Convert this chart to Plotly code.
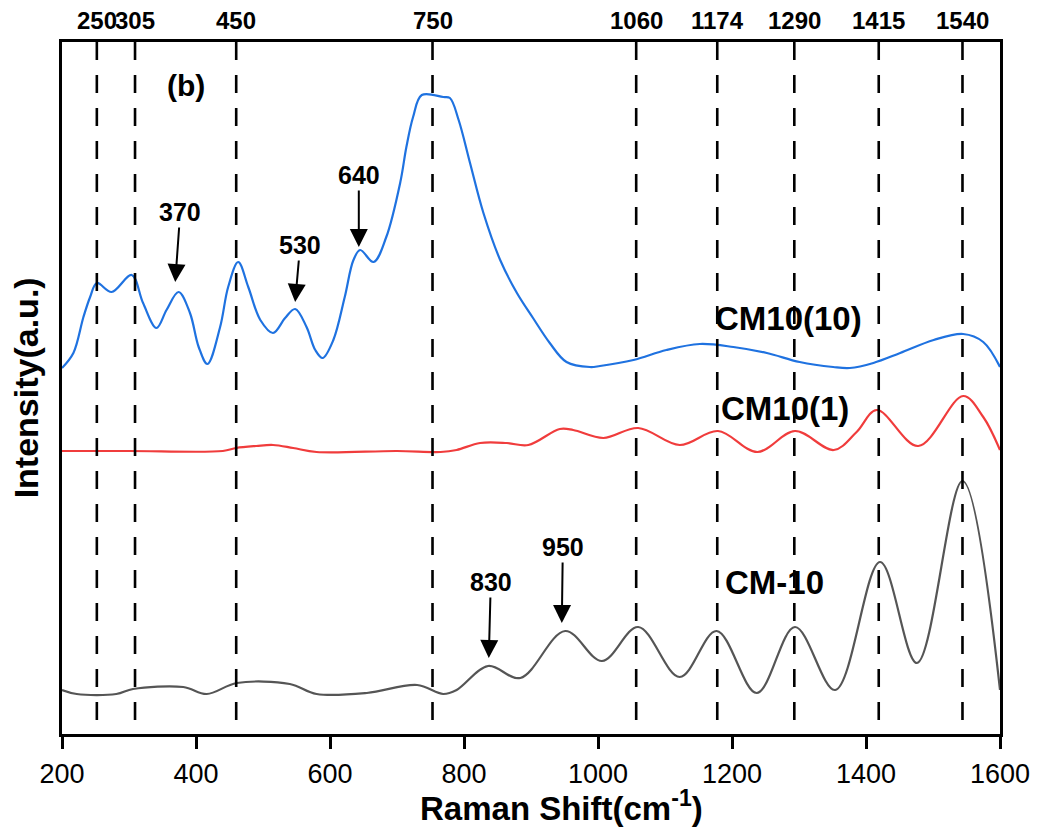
import plotly.graph_objects as go

# ---- data (Raman shift in cm^-1, intensity in a.u.) ----
x_cm10_10 = [200, 217, 232, 242, 252, 274, 304, 321, 341, 356, 374, 391, 404, 417, 436, 448, 463,
             478, 496, 515, 533, 548, 565, 578, 589, 605, 622, 635, 645, 665, 684, 705, 714,
             724, 737, 769, 779, 792, 809, 829, 854, 879, 903, 928, 953, 988, 1003, 1053, 1102,
             1152, 1202, 1252, 1301, 1351, 1376, 1411, 1451, 1501, 1545, 1575, 1600]
y_cm10_10 = [366, 381, 417, 437, 451, 442, 459, 431, 406, 424, 442, 421, 387, 370, 407, 447, 472,
             447, 414, 401, 416, 425, 407, 384, 376, 394, 437, 474, 484, 472, 497, 552, 587,
             617, 639, 637, 636, 614, 571, 521, 474, 441, 416, 391, 372, 367, 368, 374, 384,
             390, 387, 381, 372, 367, 366, 371, 381, 394, 400, 392, 367]

x_cm10_1 = [200, 300, 440, 460, 490, 515, 545, 580, 700, 765, 789, 824, 864, 896, 943, 963, 1008,
            1060, 1122, 1179, 1238, 1294, 1352, 1386, 1416, 1478, 1545, 1575, 1600]
y_cm10_1 = [283, 283, 283, 286, 288, 289, 286, 282, 283, 282, 284, 291, 291, 289, 305, 304, 296,
            306, 289, 303, 282, 303, 284, 302, 324, 288, 338, 317, 284]

x_cm_10 = [200, 222, 281, 306, 381, 416, 461, 540, 580, 655, 730, 769, 789, 836, 884, 951, 1006,
           1060, 1122, 1177, 1237, 1294, 1354, 1421, 1476, 1544, 1600]
y_cm_10 = [44, 40, 40, 45, 47, 40, 51, 50, 40, 41, 49, 40, 44, 68, 56, 103, 73,
           107, 57, 103, 41, 107, 44, 172, 71, 253, 44]

# reference lines (drawn position) and their labels
line_pos = [252, 309, 460, 753, 1057, 1178, 1293, 1419, 1544]
line_labels = ["250", "305", "450", "750", "1060", "1174", "1290", "1415", "1540"]

# arrowed peak labels: text, tip x, tip y, text offset (px)
peak_labels = ["370", "530", "640", "830", "950"]
peak_x = [369, 548, 643, 837, 946]
peak_y = [452, 432, 487, 76, 111]
peak_ax = [5, 5, 0, 2, 1]
peak_ay = [-70, -57, -72, -76, -76]

series_names = ["CM10(10)", "CM10(1)", "CM-10"]
series_colors = ["#1f72e0", "#f03c3c", "#555555"]
series_label_x = [1284, 1279, 1264]
series_label_y = [416, 326, 152]

FONT = "Liberation Sans, Arial, sans-serif"

fig = go.Figure()
for xs, ys, name, col in [(x_cm10_10, y_cm10_10, series_names[0], series_colors[0]),
                          (x_cm10_1, y_cm10_1, series_names[1], series_colors[1]),
                          (x_cm_10, y_cm_10, series_names[2], series_colors[2])]:
    fig.add_trace(go.Scatter(x=xs, y=ys, mode="lines", name=name,
                             line=dict(color=col, width=2.2, shape="spline", smoothing=1.0),
                             showlegend=False))

for xp in line_pos:
    fig.add_shape(type="line", xref="x", yref="paper", x0=xp, x1=xp, y0=1, y1=0,
                  line=dict(color="black", width=2.6, dash="18px,15px"))

annotations = []
for xp, lab in zip(line_pos, line_labels):
    annotations.append(dict(x=xp, y=1, xref="x", yref="paper", text=lab, showarrow=False,
                            yanchor="middle", yshift=22,
                            font=dict(family=FONT, size=24, color="black", weight="bold")))

for lab, tx, ty, ax, ay in zip(peak_labels, peak_x, peak_y, peak_ax, peak_ay):
    annotations.append(dict(x=tx, y=ty, xref="x", yref="y", text=lab, showarrow=True,
                            ax=ax, ay=ay, arrowhead=2, arrowsize=1.8, arrowwidth=2,
                            arrowcolor="black", standoff=0,
                            font=dict(family=FONT, size=25, color="black", weight="bold")))

for name, lx, ly in zip(series_names, series_label_x, series_label_y):
    annotations.append(dict(x=lx, y=ly, xref="x", yref="y", text=name, showarrow=False,
                            font=dict(family=FONT, size=33, color="black", weight="bold")))

annotations.append(dict(x=385, y=649, xref="x", yref="y", text="(b)", showarrow=False,
                        font=dict(family=FONT, size=30, color="black", weight="bold")))

annotations.append(dict(x=0.532, y=-0.104, xref="paper", yref="paper",
                        text="Raman Shift(cm<sup>-1</sup>)", showarrow=False,
                        xanchor="center", yanchor="middle",
                        font=dict(family=FONT, size=33, color="black", weight="bold")))
annotations.append(dict(x=-0.038, y=0.5, xref="paper", yref="paper",
                        text="Intensity(a.u.)", showarrow=False, textangle=-90,
                        xanchor="center", yanchor="middle",
                        font=dict(family=FONT, size=34, color="black", weight="bold")))

fig.update_layout(
    width=1042, height=827,
    margin=dict(l=62, r=42, t=42, b=93),
    paper_bgcolor="white", plot_bgcolor="white",
    annotations=annotations,
    xaxis=dict(range=[200, 1600], tickvals=[200, 400, 600, 800, 1000, 1200, 1400, 1600],
               ticks="outside", ticklen=12, tickwidth=2.6, tickcolor="black",
               showline=True, linewidth=2.6, linecolor="black", mirror=True,
               showgrid=False, zeroline=False, ticklabelstandoff=2,
               tickfont=dict(family=FONT, size=27, color="black")),
    yaxis=dict(range=[0, 692], showticklabels=False, ticks="",
               showline=True, linewidth=2.6, linecolor="black", mirror=True,
               showgrid=False, zeroline=False),
)

fig.write_html("out.html")
